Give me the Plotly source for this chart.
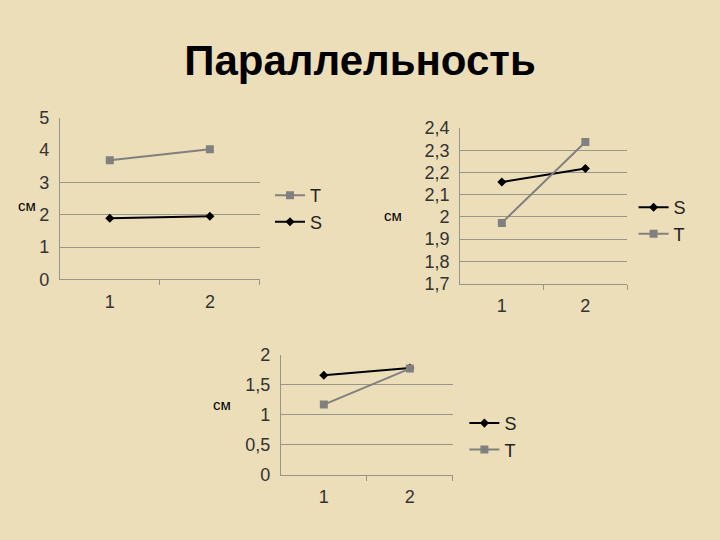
import plotly.graph_objects as go

# данные трёх графиков
categories = [1, 2]

s1 = [1.89, 1.95]
t1 = [3.68, 4.02]

s2 = [2.157, 2.218]
t2 = [1.973, 2.337]

s3 = [1.66, 1.78]
t3 = [1.17, 1.77]

y1_ticks = [0, 1, 2, 3, 4, 5]
y2_ticks = [1.7, 1.8, 1.9, 2.0, 2.1, 2.2, 2.3, 2.4]
y3_ticks = [0, 0.5, 1, 1.5, 2]

BG = "rgb(236,222,184)"
S_COLOR = "black"
T_COLOR = "rgb(128,128,128)"
GRID = "rgb(150,150,140)"
FONT = "Liberation Sans, Arial, sans-serif"


def ru(v):
    s = ("%g" % v).replace(".", ",")
    return s


def s_trace(y, xa, ya, legend):
    return go.Scatter(x=categories, y=y, name="S", mode="lines+markers",
                      line=dict(color=S_COLOR, width=2),
                      marker=dict(symbol="diamond", size=7, color=S_COLOR),
                      xaxis=xa, yaxis=ya, legend=legend)


def t_trace(y, xa, ya, legend):
    return go.Scatter(x=categories, y=y, name="T", mode="lines+markers",
                      line=dict(color=T_COLOR, width=2),
                      marker=dict(symbol="square", size=8, color=T_COLOR),
                      xaxis=xa, yaxis=ya, legend=legend)


fig = go.Figure()
fig.add_trace(t_trace(t1, "x", "y", "legend"))
fig.add_trace(s_trace(s1, "x", "y", "legend"))
fig.add_trace(s_trace(s2, "x2", "y2", "legend2"))
fig.add_trace(t_trace(t2, "x2", "y2", "legend2"))
fig.add_trace(s_trace(s3, "x3", "y3", "legend3"))
fig.add_trace(t_trace(t3, "x3", "y3", "legend3"))


def xaxis(domain, anchor):
    return dict(domain=domain, anchor=anchor, range=[0.5, 2.5],
                tickvals=categories, ticktext=["1", "2"], ticks="",
                showgrid=False, zeroline=False, showline=True,
                linecolor=GRID, linewidth=1, ticklabelstandoff=6,
                tickfont=dict(size=18, color="#333"),
                minor=dict(tickvals=[1.5, 2.5], ticks="outside", ticklen=5,
                           tickcolor=GRID, showgrid=False))


def yaxis(domain, anchor, ticks, rng, grid_vals):
    return dict(domain=domain, anchor=anchor, range=rng,
                tickvals=ticks, ticktext=[ru(v) for v in ticks],
                showgrid=False, zeroline=False, showline=True,
                linecolor=GRID, linewidth=1, ticks="", ticklabelstandoff=6,
                tickfont=dict(size=18, color="#333"),
                minor=dict(tickvals=grid_vals, showgrid=True,
                           gridcolor=GRID, gridwidth=1, ticks=""))


def legend(x, y):
    return dict(x=x, y=y, xanchor="left", yanchor="middle",
                bgcolor="rgba(0,0,0,0)", font=dict(size=18, color="#222"),
                tracegroupgap=0, itemwidth=30)


fig.update_layout(
    width=720, height=540,
    paper_bgcolor=BG, plot_bgcolor=BG,
    margin=dict(l=0, r=0, t=0, b=0),
    font=dict(family=FONT, color="#222"),
    showlegend=True,
    xaxis=xaxis([0.083, 0.361], "y"),
    yaxis=yaxis([0.482, 0.793], "x", y1_ticks, [0, 5], [1, 2, 3]),
    xaxis2=xaxis([0.639, 0.871], "y2"),
    yaxis2=yaxis([0.474, 0.773], "x2", y2_ticks, [1.7, 2.4], y2_ticks[1:]),
    xaxis3=xaxis([0.390, 0.629], "y3"),
    yaxis3=yaxis([0.106, 0.337], "x3", y3_ticks, [0, 2], [0.5, 1, 1.5, 2]),
    legend=legend(0.375, 0.618),
    legend2=legend(0.88, 0.595),
    legend3=legend(0.645, 0.18),
    title=dict(text="<b>Параллельность</b>", x=0.5, xanchor="center",
               y=0.888, yanchor="middle",
               font=dict(size=42, color="black", family=FONT)),
)

for x, y in [(16, 203), (393, 213), (211, 421)]:
    fig.add_annotation(text="см", x=x / 720, y=1 - y / 540, xref="paper",
                       yref="paper", showarrow=False,
                       font=dict(size=15, color="black"))

fig.write_html("out.html", config={"displayModeBar": False},
               post_script="document.body.style.margin='0';")
